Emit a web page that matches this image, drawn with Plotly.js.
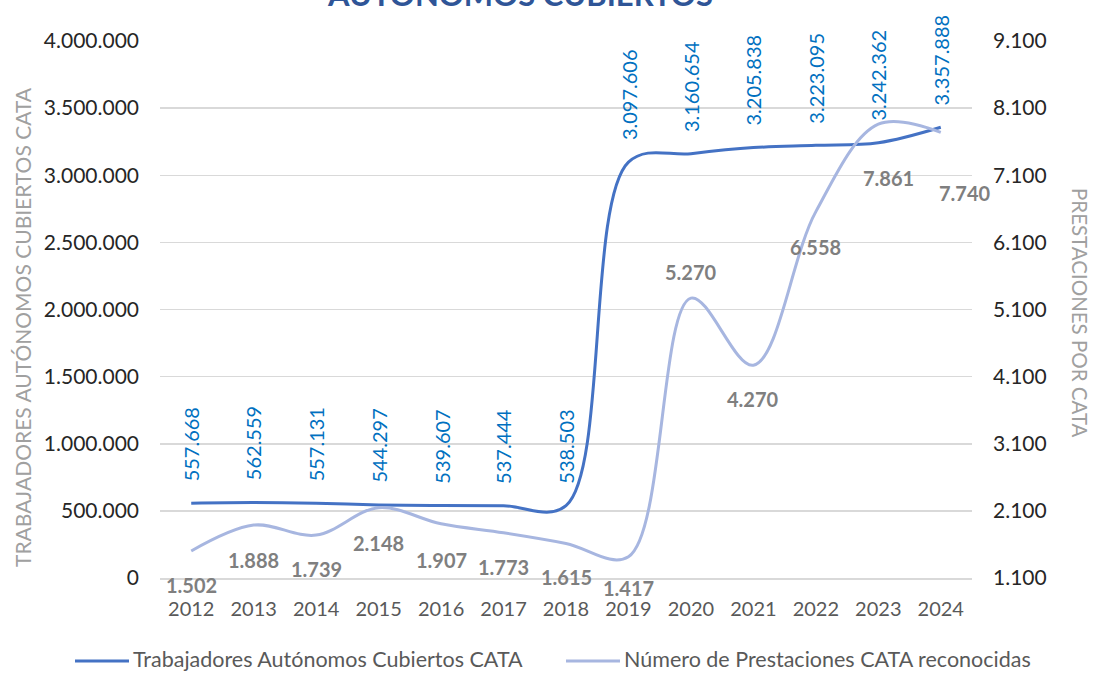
<!DOCTYPE html>
<html>
<head>
<meta charset="utf-8">
<script src="https://cdn.plot.ly/plotly-3.0.1.min.js"></script>
<style>html,body{margin:0;padding:0;background:#fff;}#chart{width:1096px;height:674px;}</style>
</head>
<body>
<div id="chart"></div>
<script>
// ---- data ----
const years = ['2012','2013','2014','2015','2016','2017','2018','2019','2020','2021','2022','2023','2024'];
const trabajadores = [557668, 562559, 557131, 544297, 539607, 537444, 538503, 3097606, 3160654, 3205838, 3223095, 3242362, 3357888];
const prestaciones = [1502, 1888, 1739, 2148, 1907, 1773, 1615, 1417, 5270, 4270, 6558, 7861, 7740];
const leftTicks = [0, 500000, 1000000, 1500000, 2000000, 2500000, 3000000, 3500000, 4000000];
const rightTicks = [1100, 2100, 3100, 4100, 5100, 6100, 7100, 8100, 9100];
const seriesNames = ['Trabajadores Autónomos Cubiertos CATA', 'Número de Prestaciones CATA reconocidas'];

// label placement offsets (pixels) for the grey labels
const prestLabelYShift = [-34, -35, -34, -35, -36, -34, -34, -31, 26, -34, -35, -54, -61];
const prestLabelXShift = [0, 0, 0, 0, 0, 0, 0, 0, 0, 0, 0, 10, 24];

const fmt = n => String(n).replace(/\B(?=(\d{3})+(?!\d))/g, '.');
const FONT = 'Lato, "Open Sans", sans-serif';
const COLORS = ['#4472C4', '#A7B6E0'];

// plot-area geometry helpers (for legend / titles in paper coords)
const PL = 160, PR = 972, PT = 41, PB = 578;
const px2x = px => (px - PL) / (PR - PL);
const py2y = py => (PB - py) / (PB - PT);

const traces = [
  {
    x: years, y: trabajadores, type: 'scatter', mode: 'lines',
    name: seriesNames[0],
    line: {color: COLORS[0], width: 3, shape: 'spline', smoothing: 1},
    yaxis: 'y', hoverinfo: 'skip'
  },
  {
    x: years, y: prestaciones, type: 'scatter', mode: 'lines',
    name: seriesNames[1],
    line: {color: COLORS[1], width: 3, shape: 'spline', smoothing: 1},
    yaxis: 'y2', hoverinfo: 'skip'
  }
];

const annotations = [];
years.forEach((yr, i) => {
  annotations.push({
    x: i, y: trabajadores[i], xref: 'x', yref: 'y',
    text: fmt(trabajadores[i]), showarrow: false, textangle: -90,
    xanchor: 'center', yanchor: 'bottom', yshift: 20,
    font: {family: FONT, size: 20, color: '#0070C0'}
  });
  annotations.push({
    x: i, y: prestaciones[i], xref: 'x', yref: 'y2',
    text: '<b>' + fmt(prestaciones[i]) + '</b>', showarrow: false,
    xanchor: 'center', yanchor: 'middle',
    yshift: prestLabelYShift[i], xshift: prestLabelXShift[i],
    font: {family: FONT, size: 20, color: '#7F7F7F'}
  });
});
// chart title (partially cut off at the top, as in the reference)
annotations.push({
  xref: 'paper', yref: 'paper', x: px2x(520), y: 1.049, xanchor: 'center', yanchor: 'bottom',
  text: '<b>AUTÓNOMOS CUBIERTOS</b>', showarrow: false,
  font: {family: FONT, size: 31, color: '#2F5597'}
});
// axis titles
annotations.push({
  xref: 'paper', yref: 'paper', x: px2x(22), y: py2y(327), xanchor: 'center', yanchor: 'middle',
  text: 'TRABAJADORES AUTÓNOMOS CUBIERTOS CATA', showarrow: false, textangle: -90,
  font: {family: FONT, size: 21, color: '#A0A0A0'}
});
annotations.push({
  xref: 'paper', yref: 'paper', x: px2x(1080), y: py2y(313), xanchor: 'center', yanchor: 'middle',
  text: 'PRESTACIONES POR CATA', showarrow: false, textangle: 90,
  font: {family: FONT, size: 20.5, color: '#A0A0A0'}
});
// legend (drawn manually for the long line samples)
const legendItems = [{x0: 75, x1: 129, tx: 132}, {x0: 566, x1: 620, tx: 623}];
const shapes = [];
legendItems.forEach((it, k) => {
  shapes.push({
    type: 'line', xref: 'paper', yref: 'paper',
    x0: px2x(it.x0), x1: px2x(it.x1), y0: py2y(661), y1: py2y(661),
    line: {color: COLORS[k], width: 3}
  });
  annotations.push({
    xref: 'paper', yref: 'paper', x: px2x(it.tx), y: py2y(659), xanchor: 'left', yanchor: 'middle',
    text: seriesNames[k], showarrow: false, borderpad: 0,
    font: {family: FONT, size: 21.5, color: '#595959'}
  });
});

const layout = {
  width: 1096, height: 674,
  margin: {l: PL, r: 1096 - PR, t: PT, b: 674 - PB, pad: 0, autoexpand: false},
  paper_bgcolor: '#ffffff', plot_bgcolor: '#ffffff',
  separators: ',.',
  font: {family: FONT, size: 20, color: '#404040'},
  showlegend: false,
  xaxis: {
    type: 'category', showgrid: false, zeroline: false,
    showline: true, linecolor: '#D9D9D9', linewidth: 1.5,
    ticks: '', ticklabelstandoff: 12,
    tickfont: {family: FONT, size: 20, color: '#595959'},
    range: [-0.5, 12.5], fixedrange: true
  },
  yaxis: {
    range: [0, 4000000], tickvals: leftTicks, tickformat: ',d',
    showgrid: true, gridcolor: '#D9D9D9', gridwidth: 1.5,
    zeroline: false, showline: false, ticks: '', ticklabelstandoff: 20,
    tickfont: {family: FONT, size: 21, color: '#262626'}
  },
  yaxis2: {
    range: [1100, 9100], tickvals: rightTicks, tickformat: ',d',
    overlaying: 'y', side: 'right', showgrid: false,
    zeroline: false, showline: false, ticks: '', ticklabelstandoff: 20,
    tickfont: {family: FONT, size: 21, color: '#262626'}
  },
  shapes: shapes,
  annotations: annotations
};

Plotly.newPlot('chart', traces, layout, {displayModeBar: false, staticPlot: true});
</script>
</body>
</html>
